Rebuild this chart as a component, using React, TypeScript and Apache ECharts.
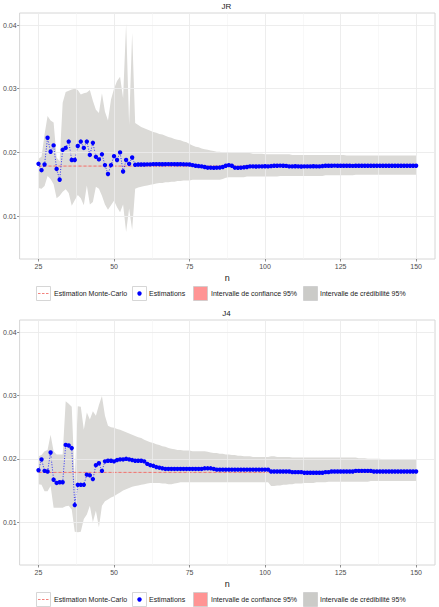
import React, { useEffect, useRef } from 'react';
import * as echarts from 'echarts';

// Panels: estimator name shown above each panel
const panelTitles = ['JR', 'J4'];
const nFirst = 25;

const xTicks = [25, 50, 75, 100, 125, 150];
const xMinorTicks = [37.5, 62.5, 87.5, 112.5, 137.5];
const yTicks = [0.01, 0.02, 0.03, 0.04];
const yMinorTicks = [0.005, 0.015, 0.025, 0.035];

// Monte-Carlo reference value and its 95% confidence interval
const mcEstimate = [0.01785, 0.01786];
const mcConfLow = [0.01778, 0.01779];
const mcConfHigh = [0.01792, 0.01793];

const legendLabels = [
  'Estimation Monte-Carlo',
  'Estimations',
  'Intervalle de confiance 95%',
  'Intervalle de crédibilité 95%',
];

// JR estimator, n = 25 .. 150
const jrEstimate = [
  0.0182, 0.0172, 0.0181, 0.0223, 0.0201, 0.0211, 0.0174, 0.0157, 0.0204, 0.0207,
  0.0217, 0.0188, 0.0188, 0.0210, 0.0217, 0.0207, 0.0217, 0.0196, 0.0215, 0.0193,
  0.0189, 0.0197, 0.0180, 0.0166, 0.0180, 0.0194, 0.0188, 0.0200, 0.0170, 0.0188,
  0.0182, 0.0192, 0.01805, 0.0181, 0.0181, 0.0181, 0.01812, 0.01812, 0.01815, 0.01815,
  0.01815, 0.01814, 0.01815, 0.01816, 0.01815, 0.01815, 0.01814, 0.01815, 0.01813, 0.01812,
  0.0181, 0.0180, 0.0179, 0.01785, 0.0178, 0.0177, 0.0176, 0.0176, 0.01758, 0.0176,
  0.01762, 0.0177, 0.0179, 0.0180, 0.0179, 0.0176, 0.01758, 0.0176, 0.01765, 0.0177,
  0.0178, 0.0178, 0.01778, 0.0178, 0.0178, 0.01782, 0.0178, 0.01785, 0.0179, 0.0179,
  0.01792, 0.0179, 0.01788, 0.0178, 0.0178, 0.01782, 0.0178, 0.01778, 0.0178, 0.0178,
  0.0178, 0.01782, 0.0178, 0.0178, 0.01785, 0.0179, 0.0179, 0.0179, 0.01792, 0.0179,
  0.0179, 0.0179, 0.0179, 0.0179, 0.01788, 0.0179, 0.0179, 0.0179, 0.0179, 0.0179,
  0.0179, 0.0179, 0.0179, 0.0179, 0.0179, 0.0179, 0.0179, 0.0179, 0.0179, 0.0179,
  0.0179, 0.0179, 0.0179, 0.0179, 0.0179, 0.0179,
];
const jrUpper = [
  0.0190, 0.0193, 0.0228, 0.0257, 0.0250, 0.0247, 0.0192, 0.0186, 0.0278, 0.0295,
  0.0297, 0.0299, 0.0300, 0.0298, 0.0291, 0.0293, 0.0294, 0.0298, 0.0281, 0.0267,
  0.0262, 0.0293, 0.0264, 0.0250, 0.0283, 0.0300, 0.0312, 0.0319, 0.0285, 0.0402,
  0.0243, 0.0388, 0.0246, 0.0243, 0.0240, 0.0238, 0.0236, 0.0234, 0.0232, 0.0231,
  0.0229, 0.0228, 0.0226, 0.0224, 0.0223, 0.0221, 0.0220, 0.0219, 0.0217, 0.0216,
  0.0213, 0.0211, 0.0209, 0.0208, 0.0206, 0.0205, 0.0204, 0.0203, 0.0202, 0.0201,
  0.0201, 0.0200, 0.0200, 0.0200, 0.0199, 0.0199, 0.0199, 0.0199, 0.0199, 0.0199,
  0.0199, 0.0198, 0.0198, 0.0198, 0.0198, 0.0197, 0.0197, 0.0197, 0.0197, 0.0197,
  0.0197, 0.0197, 0.0197, 0.0197, 0.0196, 0.0196, 0.0196, 0.0196, 0.0196, 0.0196,
  0.0196, 0.0196, 0.0196, 0.0196, 0.0196, 0.0196, 0.0196, 0.0196, 0.0196, 0.0196,
  0.0196, 0.0196, 0.0195, 0.0195, 0.0195, 0.0195, 0.0195, 0.0195, 0.0195, 0.0195,
  0.0195, 0.0195, 0.0195, 0.0195, 0.0195, 0.0195, 0.0195, 0.0195, 0.0195, 0.0195,
  0.0195, 0.0195, 0.0195, 0.0195, 0.0195, 0.0195,
];
const jrLower = [
  0.0144, 0.0143, 0.0147, 0.0163, 0.0158, 0.0150, 0.0128, 0.0132, 0.0138, 0.0142,
  0.0136, 0.0116, 0.0125, 0.0133, 0.0128, 0.0117, 0.0148, 0.0118, 0.0122, 0.0146,
  0.0143, 0.0132, 0.0118, 0.0110, 0.0117, 0.0124, 0.0114, 0.0106, 0.0118, 0.0075,
  0.0112, 0.0078, 0.0143, 0.0145, 0.0146, 0.0147, 0.0148, 0.0149, 0.0150, 0.0151,
  0.0152, 0.0152, 0.0153, 0.0153, 0.0154, 0.0154, 0.0155, 0.0155, 0.0156, 0.0156,
  0.0156, 0.0157, 0.0157, 0.0157, 0.0157, 0.0157, 0.0157, 0.0157, 0.0157, 0.0157,
  0.0157, 0.0158, 0.0160, 0.0161, 0.0161, 0.0161, 0.0161, 0.0161, 0.0161, 0.0162,
  0.0162, 0.0162, 0.0162, 0.0162, 0.0162, 0.0162, 0.0162, 0.0162, 0.0162, 0.0162,
  0.0163, 0.0163, 0.0163, 0.0163, 0.0163, 0.0163, 0.0163, 0.0163, 0.0163, 0.0163,
  0.0163, 0.0163, 0.0163, 0.0163, 0.0163, 0.0164, 0.0164, 0.0164, 0.0164, 0.0164,
  0.0164, 0.0164, 0.0164, 0.0164, 0.0164, 0.0165, 0.0165, 0.0165, 0.0165, 0.0165,
  0.0165, 0.0165, 0.0165, 0.0165, 0.0165, 0.0165, 0.0165, 0.0165, 0.0165, 0.0165,
  0.0165, 0.0165, 0.0165, 0.0165, 0.0165, 0.0165,
];

// J4 estimator, n = 25 .. 150
const j4Estimate = [
  0.0182, 0.0199, 0.0181, 0.0180, 0.0210, 0.0167, 0.0162, 0.0163, 0.0163, 0.0222,
  0.0221, 0.0217, 0.0127, 0.0159, 0.0159, 0.0159, 0.0175, 0.0174, 0.0168, 0.0190,
  0.0193, 0.0181, 0.0196, 0.0197, 0.0197, 0.0196, 0.0198, 0.0199, 0.0199, 0.0200,
  0.0199, 0.0198, 0.0197, 0.0197, 0.0197, 0.0196, 0.0192, 0.0190, 0.0189, 0.0187,
  0.0186, 0.0185, 0.0184, 0.0184, 0.0184, 0.0184, 0.0184, 0.0184, 0.0184, 0.0184,
  0.0184, 0.0184, 0.0184, 0.0184, 0.0184, 0.0185, 0.0185, 0.0185, 0.0184, 0.0183,
  0.0183, 0.0183, 0.0183, 0.0183, 0.0183, 0.0183, 0.0183, 0.0183, 0.0183, 0.0183,
  0.0183, 0.0183, 0.0183, 0.0183, 0.0183, 0.0183, 0.0183, 0.0180, 0.0180, 0.0180,
  0.0180, 0.0180, 0.0180, 0.0180, 0.0179, 0.0179, 0.0179, 0.0179, 0.0178, 0.0178,
  0.0178, 0.0178, 0.0178, 0.0178, 0.0178, 0.0179, 0.0179, 0.0180, 0.0180, 0.0180,
  0.0180, 0.0180, 0.0180, 0.0180, 0.0180, 0.0181, 0.0181, 0.0181, 0.0181, 0.0181,
  0.0181, 0.0180, 0.0180, 0.0180, 0.0180, 0.0180, 0.0180, 0.0180, 0.0180, 0.0180,
  0.0180, 0.0180, 0.0180, 0.0180, 0.0180, 0.0180,
];
const j4Upper = [
  0.0204, 0.0206, 0.0212, 0.0214, 0.0238, 0.0212, 0.0207, 0.0207, 0.0207, 0.0291,
  0.0287, 0.0282, 0.0165, 0.0283, 0.0282, 0.0246, 0.0273, 0.0262, 0.0275, 0.0268,
  0.0285, 0.0299, 0.0268, 0.0252, 0.0250, 0.0249, 0.0247, 0.0246, 0.0244, 0.0242,
  0.0240, 0.0238, 0.0236, 0.0234, 0.0233, 0.0230, 0.0228, 0.0226, 0.0225, 0.0223,
  0.0222, 0.0220, 0.0219, 0.0217, 0.0216, 0.0215, 0.0214, 0.0214, 0.0213, 0.0213,
  0.0213, 0.0212, 0.0212, 0.0212, 0.0212, 0.0212, 0.0211, 0.0210, 0.0209, 0.0209,
  0.0208, 0.0208, 0.0207, 0.0207, 0.0206, 0.0206, 0.0205, 0.0205, 0.0204, 0.0204,
  0.0204, 0.0203, 0.0203, 0.0203, 0.0203, 0.0203, 0.0203, 0.0204, 0.0204, 0.0203,
  0.0203, 0.0203, 0.0203, 0.0203, 0.0202, 0.0202, 0.0202, 0.0202, 0.0202, 0.0202,
  0.0202, 0.0202, 0.0202, 0.0202, 0.0202, 0.0202, 0.0202, 0.0202, 0.0202, 0.0202,
  0.0202, 0.0202, 0.0202, 0.0202, 0.0202, 0.0202, 0.0201, 0.0201, 0.0201, 0.0200,
  0.0200, 0.0200, 0.0200, 0.0200, 0.0199, 0.0199, 0.0199, 0.0199, 0.0199, 0.0199,
  0.0199, 0.0199, 0.0199, 0.0199, 0.0199, 0.0199,
];
const j4Lower = [
  0.0160, 0.0159, 0.0149, 0.0149, 0.0157, 0.0123, 0.0123, 0.0123, 0.0123, 0.0125,
  0.0126, 0.0120, 0.0085, 0.0084, 0.0085, 0.0105, 0.0112, 0.0126, 0.0100, 0.0118,
  0.0092, 0.0126, 0.0133, 0.0136, 0.0139, 0.0141, 0.0144, 0.0147, 0.0150, 0.0152,
  0.0154, 0.0156, 0.0157, 0.0158, 0.0159, 0.0160, 0.0161, 0.0162, 0.0162, 0.0162,
  0.0162, 0.0161, 0.0161, 0.0160, 0.0160, 0.0161, 0.0162, 0.0163, 0.0163, 0.0163,
  0.0163, 0.0163, 0.0163, 0.0163, 0.0163, 0.0163, 0.0163, 0.0163, 0.0163, 0.0163,
  0.0163, 0.0163, 0.0163, 0.0163, 0.0163, 0.0163, 0.0163, 0.0163, 0.0163, 0.0163,
  0.0163, 0.0163, 0.0163, 0.0163, 0.0163, 0.0163, 0.0163, 0.0157, 0.0157, 0.0158,
  0.0158, 0.0159, 0.0159, 0.0160, 0.0160, 0.0161, 0.0161, 0.0161, 0.0162, 0.0162,
  0.0162, 0.0162, 0.0163, 0.0163, 0.0163, 0.0163, 0.0164, 0.0164, 0.0164, 0.0164,
  0.0164, 0.0164, 0.0164, 0.0164, 0.0164, 0.0164, 0.0164, 0.0164, 0.0164, 0.0164,
  0.0165, 0.0165, 0.0165, 0.0165, 0.0165, 0.0165, 0.0165, 0.0165, 0.0165, 0.0165,
  0.0165, 0.0165, 0.0165, 0.0165, 0.0165, 0.0165,
];

const panelEstimates = [jrEstimate, j4Estimate];
const panelUppers = [jrUpper, j4Upper];
const panelLowers = [jrLower, j4Lower];

// Layout
const W = 439;
const H = 607;
const FONT = '"Liberation Sans", Arial, Helvetica, sans-serif';
const panelTop = [13, 320];
const panelHeight = [246, 245];
const panelLeft = 18;
const panelRight = 4;
const titleY = [6, 313];
const legendY = [293, 599];
const xRange = [18.75, 156.25];
const yRange = [0.00325, 0.0419];

const BLUE = '#0000ff';
const RED = '#f0625c';
const GREY_BAND = '#dbdad7';
const PINK = '#ff9494';

// Ribbon between two curves, drawn as one polygon in data coordinates
function ribbonSeries(p: number, xs: number[], lo: number[], hi: number[], fill: string, opacity: number, z: number) {
  return {
    type: 'custom',
    xAxisIndex: p,
    yAxisIndex: p,
    silent: true,
    animation: false,
    clip: true,
    z,
    data: [[xs[0], lo[0]]],
    renderItem: (_params: any, api: any) => {
      const pts: number[][] = [];
      for (let i = 0; i < xs.length; i++) pts.push(api.coord([xs[i], lo[i]]));
      for (let i = xs.length - 1; i >= 0; i--) pts.push(api.coord([xs[i], hi[i]]));
      return {
        type: 'polygon',
        shape: { points: pts },
        style: { fill, opacity, stroke: 'none' },
      };
    },
  };
}

// Dotted connecting line plus filled points, drawn in data coordinates
function estimateSeries(p: number, xs: number[], ys: number[]) {
  return [
    {
      type: 'line',
      xAxisIndex: p,
      yAxisIndex: p,
      silent: true,
      animation: false,
      emphasis: { disabled: true },
      data: xs.map((x, i) => [x, ys[i]]),
      symbol: 'none',
      lineStyle: { color: BLUE, width: 0.8, type: [1, 1.6] },
      z: 4,
    },
    {
      type: 'scatter',
      xAxisIndex: p,
      yAxisIndex: p,
      silent: true,
      animation: false,
      emphasis: { disabled: true },
      data: xs.map((x, i) => [x, ys[i]]),
      symbol: 'circle',
      symbolSize: 4.4,
      itemStyle: { color: BLUE, borderWidth: 0, opacity: 1 },
      z: 5,
    },
  ];
}

function legendGraphics(cy: number) {
  const keyX = [36, 132, 193, 303];
  const textX = [54, 149, 211, 320];
  const k = 14;
  const top = cy - k / 2;
  const els: any[] = [];
  const fills = ['#ffffff', '#ffffff', PINK, '#cbcbc8'];
  keyX.forEach((x, i) => {
    els.push({
      type: 'rect',
      shape: { x: x + 0.5, y: top + 0.5, width: k, height: k },
      style: { fill: fills[i], stroke: '#cccccc', lineWidth: 0.8 },
      silent: true,
    });
  });
  els.push({
    type: 'line',
    shape: { x1: keyX[0] + 2, y1: cy + 0.5, x2: keyX[0] + k - 1, y2: cy + 0.5 },
    style: { stroke: RED, lineWidth: 0.8, lineDash: [2.5, 1.5] },
    silent: true,
  });
  els.push({
    type: 'circle',
    shape: { cx: keyX[1] + k / 2 + 0.5, cy: cy + 0.5, r: 2.2 },
    style: { fill: BLUE },
    silent: true,
  });
  legendLabels.forEach((t, i) => {
    els.push({
      type: 'text',
      x: textX[i],
      y: cy + 0.5,
      style: {
        text: t,
        fontSize: 7,
        fontFamily: FONT,
        fill: '#1a1a1a',
        verticalAlign: 'middle',
        textAlign: 'left',
      },
      silent: true,
    });
  });
  return els;
}

function buildOption() {
  const grid: any[] = [];
  const xAxis: any[] = [];
  const yAxis: any[] = [];
  const series: any[] = [];
  const graphic: any[] = [];

  panelTitles.forEach((title, p) => {
    grid.push({
      left: panelLeft,
      right: panelRight,
      top: panelTop[p],
      height: panelHeight[p],
      show: true,
      backgroundColor: '#ffffff',
      borderColor: '#d6d6d6',
      borderWidth: 1,
    });
    xAxis.push({
      type: 'value',
      gridIndex: p,
      min: xRange[0],
      max: xRange[1],
      splitLine: { show: false },
      axisLine: { show: false },
      axisTick: {
        show: true,
        customValues: xTicks,
        length: 2.5,
        lineStyle: { color: '#444444', width: 0.6 },
      },
      axisLabel: {
        customValues: xTicks,
        fontSize: 7,
        color: '#4d4d4d',
        fontFamily: FONT,
        margin: 4,
      },
      name: 'n',
      nameLocation: 'middle',
      nameGap: 14,
      nameTextStyle: { fontSize: 9, color: '#1a1a1a', fontFamily: FONT },
    });
    yAxis.push({
      type: 'value',
      gridIndex: p,
      min: yRange[0],
      max: yRange[1],
      splitLine: { show: false },
      axisLine: { show: false },
      axisTick: {
        show: true,
        customValues: yTicks,
        length: 2.5,
        lineStyle: { color: '#444444', width: 0.6 },
      },
      axisLabel: {
        customValues: yTicks,
        fontSize: 7,
        color: '#4d4d4d',
        fontFamily: FONT,
        margin: 3,
        formatter: (v: number) => v.toFixed(2),
      },
    });

    const ax = { xAxisIndex: p, yAxisIndex: p };
    const quiet = { silent: true, emphasis: { disabled: true }, animation: false };

    // panel grid lines
    const major = { color: '#ebebeb', width: 0.9, type: 'solid' };
    const minor = { color: '#f3f3f3', width: 0.6, type: 'solid' };
    series.push({
      type: 'line',
      ...ax,
      ...quiet,
      data: [],
      z: 0,
      markLine: {
        silent: true,
        animation: false,
        symbol: ['none', 'none'],
        label: { show: false },
        emphasis: { disabled: true },
        data: [
          ...xMinorTicks.map((v) => ({ xAxis: v, lineStyle: minor })),
          ...yMinorTicks.map((v) => ({ yAxis: v, lineStyle: minor })),
          ...xTicks.map((v) => ({ xAxis: v, lineStyle: major })),
          ...yTicks.map((v) => ({ yAxis: v, lineStyle: major })),
        ],
      },
    });

    const lower = panelLowers[p];
    const upper = panelUppers[p];
    const xs = lower.map((_, i) => nFirst + i);
    const xEnds = [xs[0], xs[xs.length - 1]];

    // 95% credible interval ribbon
    series.push(ribbonSeries(p, xs, lower, upper, GREY_BAND, 1, 1));

    // Monte-Carlo 95% confidence interval ribbon
    series.push(
      ribbonSeries(p, xEnds, [mcConfLow[p], mcConfLow[p]], [mcConfHigh[p], mcConfHigh[p]], PINK, 0.45, 2)
    );

    // Monte-Carlo estimate
    series.push({
      type: 'line',
      ...ax,
      ...quiet,
      data: xEnds.map((x) => [x, mcEstimate[p]]),
      symbol: 'none',
      lineStyle: { color: RED, width: 0.8, type: [3, 2] },
      z: 3,
    });

    // Estimations
    series.push(...estimateSeries(p, xs, panelEstimates[p]));

    graphic.push({
      type: 'text',
      x: panelLeft + (W - panelLeft - panelRight) / 2,
      y: titleY[p],
      style: {
        text: title,
        fontSize: 8,
        fontFamily: FONT,
        fill: '#1a1a1a',
        textAlign: 'center',
        verticalAlign: 'middle',
      },
      silent: true,
    });
    graphic.push(...legendGraphics(legendY[p]));
  });

  return {
    animation: false,
    backgroundColor: '#ffffff',
    grid,
    xAxis,
    yAxis,
    series,
    graphic,
  };
}

export default function App() {
  const ref = useRef<HTMLDivElement>(null);
  useEffect(() => {
    if (!ref.current) return;
    const chart = echarts.init(ref.current, undefined, { renderer: 'svg' });
    chart.setOption(buildOption() as any);
    return () => chart.dispose();
  }, []);
  return (
    <div
      ref={ref}
      style={{ position: 'absolute', left: 0, top: 0, width: W, height: H }}
    />
  );
}
